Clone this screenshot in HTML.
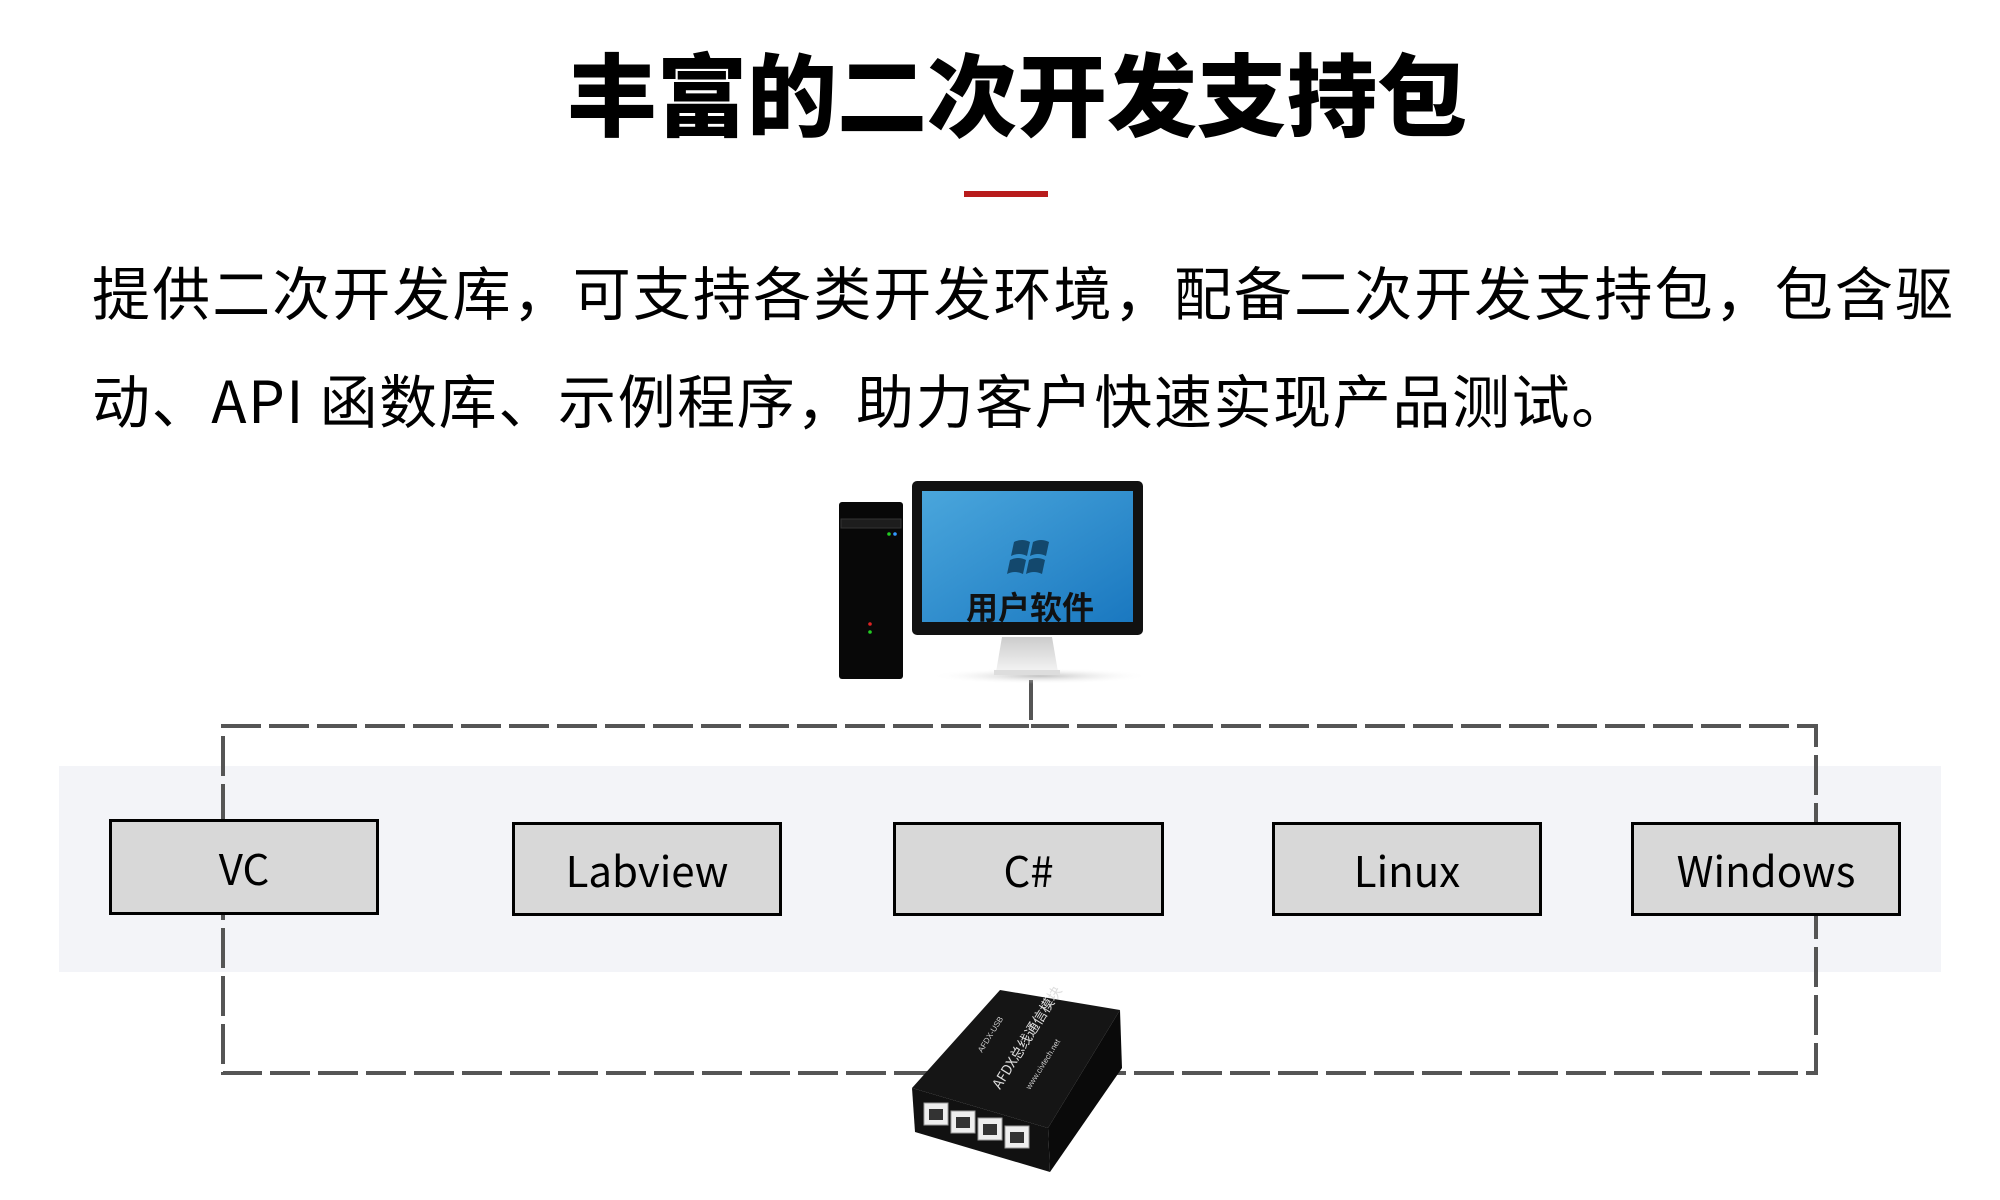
<!DOCTYPE html>
<html><head><meta charset="utf-8"><style>
html,body{margin:0;padding:0;background:#fff;}
body{width:2000px;height:1200px;position:relative;overflow:hidden;font-family:"Liberation Sans","Noto Sans CJK SC",sans-serif;}
.t{position:absolute;white-space:nowrap;}
.box{position:absolute;background:#d8d8d8;border:3px solid #000;box-sizing:border-box;display:flex;align-items:center;justify-content:center;font-family:"Noto Sans CJK SC","Liberation Sans",sans-serif;font-size:42px;color:#000;}
</style></head><body>
<div class="t" style="left:0;width:2034px;top:30px;text-align:center;font-family:'Noto Sans CJK SC',sans-serif;font-weight:900;font-size:90px;line-height:120px;color:#000;">丰富的二次开发支持包</div>
<div style="position:absolute;left:964px;top:191px;width:84px;height:6px;background:#b81c1c;"></div>
<div class="t" style="left:92px;top:250px;font-family:'Noto Sans CJK SC',sans-serif;font-size:58px;letter-spacing:2.1px;line-height:80px;color:#000;">提供二次开发库，可支持各类开发环境，配备二次开发支持包，包含驱</div>
<div class="t" style="left:92px;top:358px;font-family:'Noto Sans CJK SC',sans-serif;font-size:58px;letter-spacing:1.6px;line-height:80px;color:#000;">动、API 函数库、示例程序，助力客户快速实现产品测试。</div>

<div style="position:absolute;left:59px;top:766px;width:1882px;height:206px;background:#f3f4f8;"></div>

<svg style="position:absolute;left:0;top:0" width="2000" height="1200">
<g fill="none" stroke="#555" stroke-width="4" stroke-dasharray="40 8">
<path d="M1031 680 V726 H223 V1073 H1816 V726 H1031"/>
</g>
<defs>
<linearGradient id="sc" x1="0" y1="0" x2="1" y2="1"><stop offset="0" stop-color="#4aa6dc"/><stop offset="1" stop-color="#1a78c0"/></linearGradient>
<linearGradient id="st" x1="0" y1="0" x2="0" y2="1"><stop offset="0" stop-color="#ccc"/><stop offset="1" stop-color="#f4f4f4"/></linearGradient>
<radialGradient id="sh"><stop offset="0" stop-color="#999" stop-opacity=".6"/><stop offset="1" stop-color="#fff" stop-opacity="0"/></radialGradient>
</defs>
<ellipse cx="1040" cy="676" rx="110" ry="8" fill="url(#sh)"/>
<rect x="839" y="502" width="64" height="177" rx="3" fill="#080808"/>
<rect x="841" y="519" width="60" height="9" fill="#1d1d1d" stroke="#333"/>
<circle cx="889" cy="534" r="1.8" fill="#2c2"/><circle cx="895" cy="534" r="1.8" fill="#39f"/>
<circle cx="870" cy="624" r="1.8" fill="#d22"/><circle cx="870" cy="632" r="1.8" fill="#2c2"/>
<path d="M1002 637 L1052 637 L1058 672 L996 672 Z" fill="url(#st)"/>
<rect x="994" y="670" width="66" height="5" fill="#ddd"/>
<rect x="912" y="481" width="231" height="154" rx="5" fill="#111"/>
<rect x="922" y="491" width="211" height="131" fill="url(#sc)"/>
<path d="M1014 542 q8 -4 16 0 l-3 14 q-8 -4 -16 0 z M1033 542 q8 -4 16 0 l-3 14 q-8 -4 -16 0 z M1010 560 q8 -4 16 0 l-3 14 q-8 -4 -16 0 z M1029 560 q8 -4 16 0 l-3 14 q-8 -4 -16 0 z" fill="#0e3c5c" opacity=".85"/>
<text x="1030" y="619" text-anchor="middle" font-family="Noto Sans CJK SC,sans-serif" font-weight="700" font-size="32" fill="#111">用户软件</text>
<polygon points="912,1088 1000,990 1120,1010 1048,1128" fill="#151515"/>
<polygon points="1048,1128 1120,1010 1122,1068 1050,1172" fill="#0a0a0a"/>
<polygon points="912,1088 1048,1128 1050,1172 915,1132" fill="#111"/>
<g fill="#eee" stroke="#999" stroke-width="1">
<rect x="924" y="1103" width="24" height="22"/><rect x="951" y="1111" width="24" height="22"/><rect x="978" y="1118" width="24" height="22"/><rect x="1005" y="1126" width="24" height="22"/>
</g>
<g fill="#333"><rect x="929" y="1109" width="14" height="11"/><rect x="956" y="1117" width="14" height="11"/><rect x="983" y="1124" width="14" height="11"/><rect x="1010" y="1132" width="14" height="11"/></g>
<text transform="translate(1000,1090) rotate(-58)" font-family="Noto Sans CJK SC,sans-serif" font-size="14" fill="#ddd">AFDX总线通信模块</text>
<text transform="translate(982,1053) rotate(-58)" font-family="Liberation Sans,sans-serif" font-size="8" fill="#ccc">AFDX-USB</text>
<text transform="translate(1030,1090) rotate(-58)" font-family="Liberation Sans,sans-serif" font-size="8" fill="#ccc">www.civtech.net</text>
</svg>

<div class="box" style="left:109px;top:819px;width:270px;height:96px;">VC</div>
<div class="box" style="left:512px;top:822px;width:270px;height:94px;">Labview</div>
<div class="box" style="left:893px;top:822px;width:271px;height:94px;">C#</div>
<div class="box" style="left:1272px;top:822px;width:270px;height:94px;">Linux</div>
<div class="box" style="left:1631px;top:822px;width:270px;height:94px;">Windows</div>
</body></html>
